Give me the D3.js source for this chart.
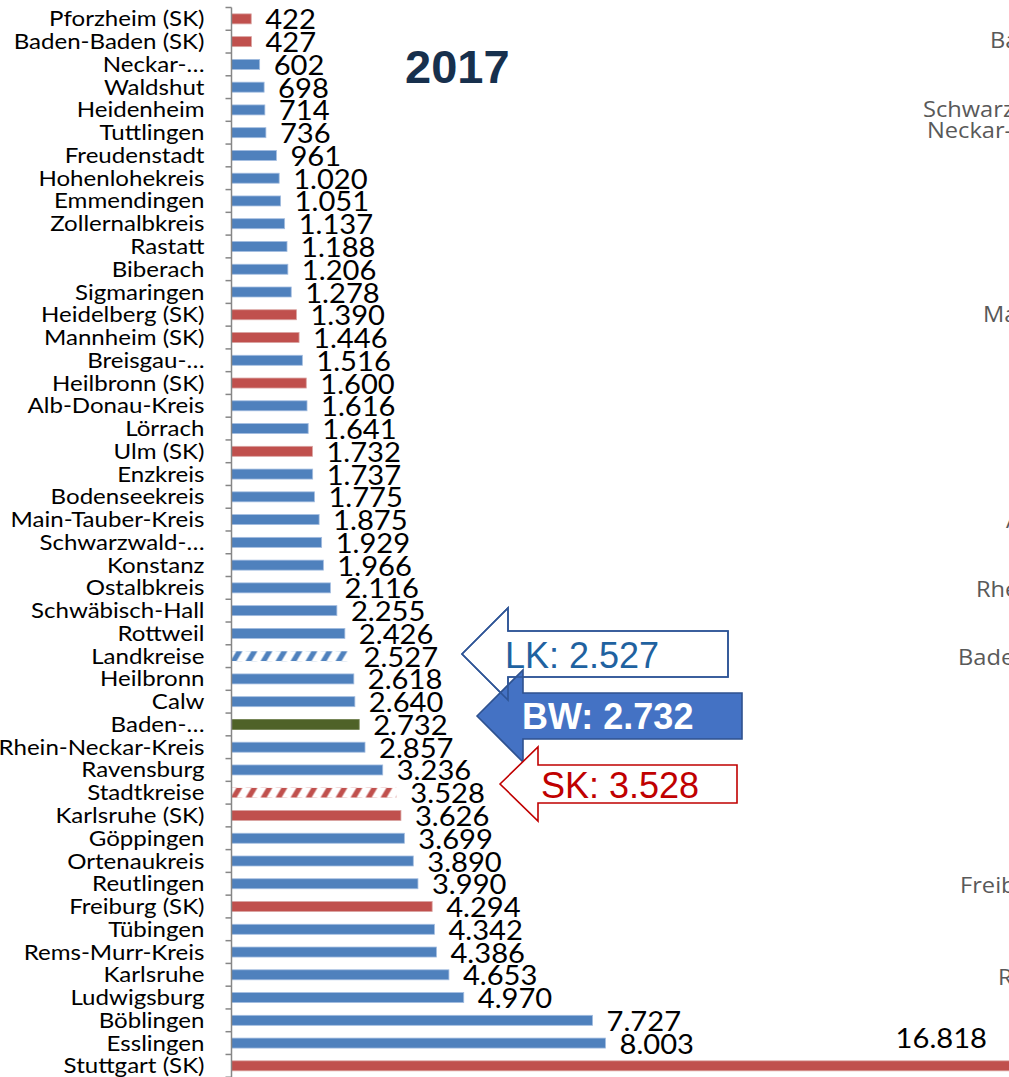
<!DOCTYPE html>
<html>
<head>
<meta charset="utf-8">
<script src="https://cdn.jsdelivr.net/npm/d3@7"></script>
<style>
  body { margin: 0; background: #fff; overflow: hidden; }
  svg { display: block; }
</style>
</head>
<body>
<svg id="chart" width="1009" height="1077"></svg>
<script>
// Kreise und Stadtkreise in Baden-Württemberg, 2017 (aufsteigend sortiert)
const categories = [
  "Pforzheim (SK)", "Baden-Baden (SK)", "Neckar-…", "Waldshut", "Heidenheim",
  "Tuttlingen", "Freudenstadt", "Hohenlohekreis", "Emmendingen", "Zollernalbkreis",
  "Rastatt", "Biberach", "Sigmaringen", "Heidelberg (SK)", "Mannheim (SK)",
  "Breisgau-…", "Heilbronn (SK)", "Alb-Donau-Kreis", "Lörrach", "Ulm (SK)",
  "Enzkreis", "Bodenseekreis", "Main-Tauber-Kreis", "Schwarzwald-…", "Konstanz",
  "Ostalbkreis", "Schwäbisch-Hall", "Rottweil", "Landkreise", "Heilbronn",
  "Calw", "Baden-…", "Rhein-Neckar-Kreis", "Ravensburg", "Stadtkreise",
  "Karlsruhe (SK)", "Göppingen", "Ortenaukreis", "Reutlingen", "Freiburg (SK)",
  "Tübingen", "Rems-Murr-Kreis", "Karlsruhe", "Ludwigsburg", "Böblingen",
  "Esslingen", "Stuttgart (SK)"
];

const values = [
  422, 427, 602, 698, 714,
  736, 961, 1020, 1051, 1137,
  1188, 1206, 1278, 1390, 1446,
  1516, 1600, 1616, 1641, 1732,
  1737, 1775, 1875, 1929, 1966,
  2116, 2255, 2426, 2527, 2618,
  2640, 2732, 2857, 3236, 3528,
  3626, 3699, 3890, 3990, 4294,
  4342, 4386, 4653, 4970, 7727,
  8003, 16818
];

// lk = Landkreis, sk = Stadtkreis, bw = Land, lkAvg / skAvg = Durchschnittswerte
const kinds = [
  "sk", "sk", "lk", "lk", "lk",
  "lk", "lk", "lk", "lk", "lk",
  "lk", "lk", "lk", "sk", "sk",
  "lk", "sk", "lk", "lk", "sk",
  "lk", "lk", "lk", "lk", "lk",
  "lk", "lk", "lk", "lkAvg", "lk",
  "lk", "bw", "lk", "lk", "skAvg",
  "sk", "lk", "lk", "lk", "sk",
  "lk", "lk", "lk", "lk", "lk",
  "lk", "sk"
];

const title = "2017";

// Hinweispfeile auf die Durchschnittswerte
const calloutNames = ["LK", "BW", "SK"];
const calloutValues = [2527, 2732, 3528];

// Beschriftungen des angrenzenden Diagramms (rechts angeschnitten)
const neighbourLabels = [
  "Baden-Baden (SK)", "Schwarzwald-…", "Neckar-…", "Mannheim (SK)",
  "Alb-Donau-Kreis", "Rhein-Neckar-Kreis", "Baden-…", "Freiburg (SK)", "Reutlingen"
];

// ---------------------------------------------------------------------------
const W = 1009, H = 1077;
const svg = d3.select("#chart");

const de = d3.formatLocale({ decimal: ",", thousands: ".", grouping: [3], currency: ["", " €"] });
const fmt = de.format(",d");

const rows = categories.map((c, i) => ({ cat: c, value: values[i], kind: kinds[i] }));

const axisX = 231.5;
const rowStep = 22.76;
const y = d3.scaleBand()
  .domain(categories)
  .range([7.5, 7.5 + rowStep * categories.length])
  .padding(0);
const x = d3.scaleLinear()
  .domain([0, 18000])
  .range([axisX, axisX + 18000 * 0.04673]);

const barH = 10;

const fills = {
  lk: "#4F81BD",
  sk: "#C0504D",
  bw: "#4F6228",
  lkAvg: "url(#hatchBlue)",
  skAvg: "url(#hatchRed)"
};
const strokes = { lk: "#a3bde0", sk: "#d9a3a1", bw: "#6f7f4f" };

// Schraffur für die Durchschnittsbalken
const defs = svg.append("defs");
function hatch(id, color, cat) {
  const top = y(cat) + (y.bandwidth() - barH) / 2;
  const p = defs.append("pattern")
    .attr("id", id)
    .attr("patternUnits", "userSpaceOnUse")
    .attr("x", axisX).attr("y", top)
    .attr("width", 15).attr("height", barH);
  p.append("polygon")
    .attr("points", `-1,${barH} 5,${barH} 11,0 5,0`)
    .attr("fill", color);
  p.append("polygon")
    .attr("points", `14,${barH} 20,${barH} 26,0 20,0`)
    .attr("fill", color);
}
hatch("hatchBlue", "#4F81BD", categories[kinds.indexOf("lkAvg")]);
hatch("hatchRed", "#C0504D", categories[kinds.indexOf("skAvg")]);

// Balken
svg.append("g").selectAll("rect")
  .data(rows)
  .join("rect")
  .attr("x", x(0))
  .attr("y", d => y(d.cat) + (y.bandwidth() - barH) / 2)
  .attr("width", d => x(d.value) - x(0))
  .attr("height", barH)
  .attr("fill", d => fills[d.kind])
  .attr("stroke", d => strokes[d.kind] || "none")
  .attr("stroke-width", 0.8);

// Kategorienachse mit Teilstrichen an den Bandgrenzen
const axis = svg.append("g").attr("stroke", "#868686").attr("stroke-width", 1.5);
const yTop = y.range()[0], yBot = y.range()[1];
axis.append("line")
  .attr("x1", axisX).attr("x2", axisX)
  .attr("y1", yTop).attr("y2", yBot);
axis.selectAll("line.tick")
  .data(d3.range(categories.length + 1))
  .join("line")
  .attr("class", "tick")
  .attr("x1", axisX - 6).attr("x2", axisX)
  .attr("y1", i => yTop + i * y.step())
  .attr("y2", i => yTop + i * y.step());

// Beschriftungen werden horizontal leicht gestreckt gesetzt
const catStretch = 1.095;
const valStretch = 1.1;

// Kategorienbeschriftungen
svg.append("g")
  .attr("font-family", "Lato, 'Open Sans', sans-serif")
  .attr("font-size", 22)
  .attr("fill", "#000")
  .attr("text-anchor", "end")
  .selectAll("text")
  .data(rows)
  .join("text")
  .attr("transform", d => `translate(${axisX - 27},${y(d.cat) + y.bandwidth() / 2 + 7.5}) scale(${catStretch},1)`)
  .text(d => d.cat);

// Werte
const labelG = svg.append("g")
  .attr("font-family", "Lato, 'Open Sans', sans-serif")
  .attr("font-size", 26.5)
  .attr("fill", "#000");
labelG.selectAll("text")
  .data(rows)
  .join("text")
  .each(function (d) {
    const t = d3.select(this);
    const cy = y(d.cat) + y.bandwidth() / 2;
    if (x(d.value) > W) {
      // Balken läuft über den Rand: Wert am rechten Rand über dem Balken
      t.attr("transform", `translate(${W - 22},${cy - 18}) scale(${valStretch},1)`)
        .attr("text-anchor", "end");
    } else {
      t.attr("transform", `translate(${x(d.value) + 14},${cy + 10.5}) scale(${valStretch},1)`)
        .attr("text-anchor", "start");
    }
  })
  .text(d => fmt(d.value));

// Titel
svg.append("text")
  .attr("x", 405).attr("y", 83)
  .attr("font-family", "'Liberation Sans', Arial, sans-serif")
  .attr("font-weight", "bold")
  .attr("font-size", 47)
  .attr("fill", "#17304D")
  .text(title);

// Pfeile
const arrowLayout = [
  { tipX: 462, tipY: 654, baseX: 508, headHalf: 46, bodyHalf: 23, right: 728,
    fill: "#fff", stroke: "#2F5597", text: "#1F62A0", bold: false, textX: 505, base: 668 },
  { tipX: 477, tipY: 716, baseX: 523, headHalf: 46, bodyHalf: 23, right: 742,
    fill: "#4472C4", stroke: "#2F528F", text: "#fff", bold: true, textX: 522, base: 729 },
  { tipX: 500, tipY: 784, baseX: 538, headHalf: 37, bodyHalf: 19, right: 737,
    fill: "#fff", stroke: "#C00000", text: "#C00000", bold: false, textX: 541, base: 798 }
];
function arrowPath(a) {
  return [
    [a.tipX, a.tipY],
    [a.baseX, a.tipY - a.headHalf],
    [a.baseX, a.tipY - a.bodyHalf],
    [a.right, a.tipY - a.bodyHalf],
    [a.right, a.tipY + a.bodyHalf],
    [a.baseX, a.tipY + a.bodyHalf],
    [a.baseX, a.tipY + a.headHalf]
  ].map(p => p.join(",")).join(" ");
}
const arrows = calloutNames.map((n, i) => ({ ...arrowLayout[i], label: `${n}: ${fmt(calloutValues[i])}` }));
const ag = svg.append("g");
arrows.forEach(a => {
  ag.append("polygon")
    .attr("points", arrowPath(a))
    .attr("fill", a.fill)
    .attr("stroke", a.stroke)
    .attr("stroke-width", 1.6)
    .attr("stroke-linejoin", "miter");
  ag.append("text")
    .attr("x", a.textX).attr("y", a.base)
    .attr("font-family", "'Liberation Sans', Arial, sans-serif")
    .attr("font-size", 36)
    .attr("font-weight", a.bold ? "bold" : "normal")
    .attr("fill", a.text)
    .text(a.label);
});
// Umriss des ersten Pfeils bleibt über dem gefüllten Pfeil sichtbar
ag.append("polygon")
  .attr("points", arrowPath(arrows[0]))
  .attr("fill", "none")
  .attr("stroke", arrows[0].stroke)
  .attr("stroke-width", 1.6);

// Angrenzendes Diagramm
const neighbourPos = [
  [990, 48], [923, 117], [927, 138], [983, 322], [1006, 528],
  [976, 597], [958, 665], [960, 893], [998, 985]
];
svg.append("g")
  .attr("font-family", "'Open Sans', sans-serif")
  .attr("font-size", 21.5)
  .attr("fill", "#595959")
  .selectAll("text")
  .data(neighbourLabels)
  .join("text")
  .attr("transform", (d, i) => `translate(${neighbourPos[i][0]},${neighbourPos[i][1]}) scale(1.1,1)`)
  .text(d => d);
</script>
</body>
</html>
